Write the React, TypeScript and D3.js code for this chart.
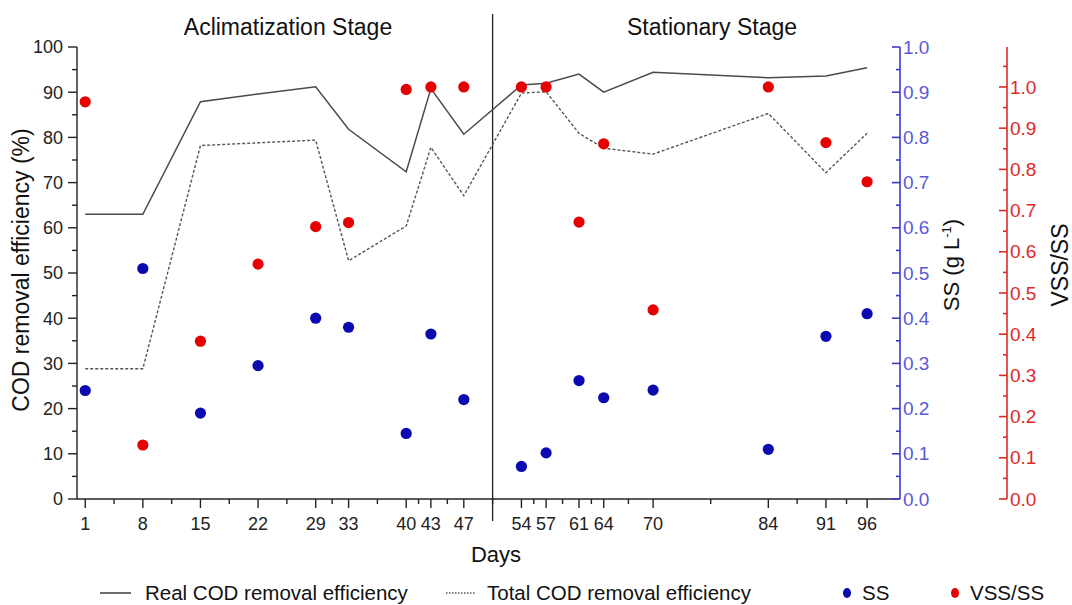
import * as d3 from 'd3';

const days = [1, 8, 15, 22, 29, 33, 40, 43, 47, 54, 57, 61, 64, 70, 84, 91, 96];
const realCOD = [63, 63, 87.9, 89.6, 91.2, 81.8, 72.4, 90.8, 80.7, 91.6, 92, 94, 90, 94.4, 93.2, 93.6, 95.4];
const totalCOD = [28.8, 28.8, 78.2, 78.8, 79.4, 52.7, 60.4, 77.8, 67.1, 89.8, 90.1, 80.9, 77.6, 76.3, 85.3, 72.2, 80.9];
const ssValues = [0.24, 0.51, 0.19, 0.295, 0.4, 0.38, 0.145, 0.365, 0.22, 0.072, 0.102, 0.262, 0.224, 0.241, 0.11, 0.36, 0.41];
const vssRatio = [0.964, 0.131, 0.383, 0.57, 0.661, 0.671, 0.994, 1.0, 1.0, 1.0, 1.0, 0.672, 0.862, 0.459, 1.0, 0.865, 0.77];
const stageNames = ['Aclimatization Stage', 'Stationary Stage'];
const stageBoundary = 50.5;
const legendLabels = ['Real COD removal efficiency', 'Total COD removal efficiency', 'SS', 'VSS/SS'];

const FONT = '"Liberation Sans", Arial, sans-serif';
const BLUE = '#0a0ab0';
const BLUE_AXIS = '#3c3cc8';
const BLUE_TEXT = '#5a5ad8';
const RED = '#e60000';
const RED_AXIS = '#e02828';

export default function App() {
  const top = 47, bottom = 499, left = 77, right = 900, redX = 1007;

  const x = d3.scaleLinear().domain([0, 100]).range([left, right]);
  const yCod = d3.scaleLinear().domain([0, 100]).range([bottom, top]);
  const ySS = d3.scaleLinear().domain([0, 1]).range([bottom, top]);
  const yVss = d3.scaleLinear().domain([0, 1.097]).range([bottom, top]);

  const realLine = d3.line<number>().x((_, i) => x(days[i])).y(d => yCod(d));
  const totalLine = d3.line<number>().x((_, i) => x(days[i])).y(d => yCod(d));

  // minor day ticks sit halfway between the labelled days
  const dayMinor = days.slice(1).map((d, i) => (d + days[i]) / 2);
  const codMajor = yCod.ticks(10);
  const codMinor = d3.range(5, 100, 10);
  const ssMajor = ySS.ticks(10);
  const ssMinor = d3.range(0.05, 1, 0.1);
  const vssMajor = d3.range(0, 1.01, 0.1);
  const vssMinor = d3.range(0.05, 1.09, 0.1);

  return (
    <svg width={1072} height={605} style={{ position: 'absolute', left: 0, top: 0, background: '#fff' }} fontFamily={FONT}>
      {/* stage titles + divider */}
      <text x={288} y={35} fontSize={23} textAnchor="middle" fill="#111">{stageNames[0]}</text>
      <text x={712} y={35} fontSize={23} textAnchor="middle" fill="#111">{stageNames[1]}</text>
      <line x1={x(stageBoundary)} x2={x(stageBoundary)} y1={14} y2={521} stroke="#222" strokeWidth={1.3} />

      {/* COD lines */}
      <path d={realLine(realCOD) || ''} fill="none" stroke="#4a4a4a" strokeWidth={1.5} />
      <path d={totalLine(totalCOD) || ''} fill="none" stroke="#555" strokeWidth={1.4} strokeDasharray="3 2" />

      {/* points */}
      {ssValues.map((v, i) => (
        <circle key={'ss' + i} cx={x(days[i])} cy={ySS(v)} r={5.6} fill={BLUE} />
      ))}
      {vssRatio.map((v, i) => (
        <circle key={'vss' + i} cx={x(days[i])} cy={yVss(v)} r={5.6} fill={RED} />
      ))}

      {/* left axis */}
      <line x1={left} x2={left} y1={top} y2={bottom} stroke="#222" strokeWidth={1.4} />
      {codMajor.map(t => (
        <g key={'cm' + t}>
          <line x1={left - 9} x2={left} y1={yCod(t)} y2={yCod(t)} stroke="#222" strokeWidth={1.4} />
          <text x={63} y={yCod(t)} dy="0.35em" fontSize={18} textAnchor="end" fill="#222">{t}</text>
        </g>
      ))}
      {codMinor.map(t => (
        <line key={'cn' + t} x1={left - 5} x2={left} y1={yCod(t)} y2={yCod(t)} stroke="#222" strokeWidth={1.4} />
      ))}
      <text transform="translate(29,270) rotate(-90)" fontSize={23} textAnchor="middle" fill="#111">COD removal efficiency (%)</text>

      {/* bottom axis */}
      <line x1={left} x2={right} y1={bottom} y2={bottom} stroke="#222" strokeWidth={1.4} />
      {days.map(d => (
        <g key={'dm' + d}>
          <line x1={x(d)} x2={x(d)} y1={bottom} y2={bottom + 9} stroke="#222" strokeWidth={1.4} />
          <text x={x(d)} y={530} fontSize={18} textAnchor="middle" fill="#222">{d}</text>
        </g>
      ))}
      {dayMinor.map(d => (
        <line key={'dn' + d} x1={x(d)} x2={x(d)} y1={bottom} y2={bottom + 5} stroke="#222" strokeWidth={1.4} />
      ))}
      <text x={496} y={562} fontSize={22} textAnchor="middle" fill="#111">Days</text>

      {/* SS axis */}
      <line x1={right} x2={right} y1={top} y2={bottom} stroke={BLUE_AXIS} strokeWidth={1.6} />
      {ssMajor.map(t => (
        <g key={'sm' + t}>
          <line x1={right - 8} x2={right} y1={ySS(t)} y2={ySS(t)} stroke={BLUE_AXIS} strokeWidth={1.6} />
          <text x={903} y={ySS(t)} dy="0.35em" fontSize={19} fill={BLUE_TEXT}>{d3.format('.1f')(t)}</text>
        </g>
      ))}
      {ssMinor.map(t => (
        <line key={'sn' + t} x1={right - 4} x2={right} y1={ySS(t)} y2={ySS(t)} stroke={BLUE_AXIS} strokeWidth={1.6} />
      ))}
      <text transform="translate(959,265) rotate(-90)" fontSize={22} textAnchor="middle" fill="#111">
        SS (g L<tspan fontSize={13} dy={-8}>-1</tspan><tspan dy={8}>)</tspan>
      </text>

      {/* VSS/SS axis */}
      <line x1={redX} x2={redX} y1={top} y2={bottom} stroke={RED_AXIS} strokeWidth={1.6} />
      {vssMajor.map(t => (
        <g key={'vm' + t}>
          <line x1={redX - 8} x2={redX} y1={yVss(t)} y2={yVss(t)} stroke={RED_AXIS} strokeWidth={1.6} />
          <text x={1010} y={yVss(t)} dy="0.35em" fontSize={19} fill={RED_AXIS}>{d3.format('.1f')(t)}</text>
        </g>
      ))}
      {vssMinor.map(t => (
        <line key={'vn' + t} x1={redX - 4} x2={redX} y1={yVss(t)} y2={yVss(t)} stroke={RED_AXIS} strokeWidth={1.6} />
      ))}
      <text transform="translate(1068,265) rotate(-90)" fontSize={23} textAnchor="middle" fill="#111">VSS/SS</text>

      {/* legend */}
      <g fontSize={20.5} fill="#111">
        <line x1={100} x2={131} y1={593} y2={593} stroke="#4a4a4a" strokeWidth={1.6} />
        <text x={145} y={600}>{legendLabels[0]}</text>
        <line x1={446} x2={476} y1={593} y2={593} stroke="#555" strokeWidth={1.4} strokeDasharray="1.5 1.5" />
        <text x={487} y={600}>{legendLabels[1]}</text>
        <ellipse cx={847} cy={593} rx={4} ry={5} fill={BLUE} />
        <text x={862} y={600}>{legendLabels[2]}</text>
        <ellipse cx={955} cy={593} rx={4} ry={5} fill={RED} />
        <text x={970} y={600}>{legendLabels[3]}</text>
      </g>
    </svg>
  );
}
